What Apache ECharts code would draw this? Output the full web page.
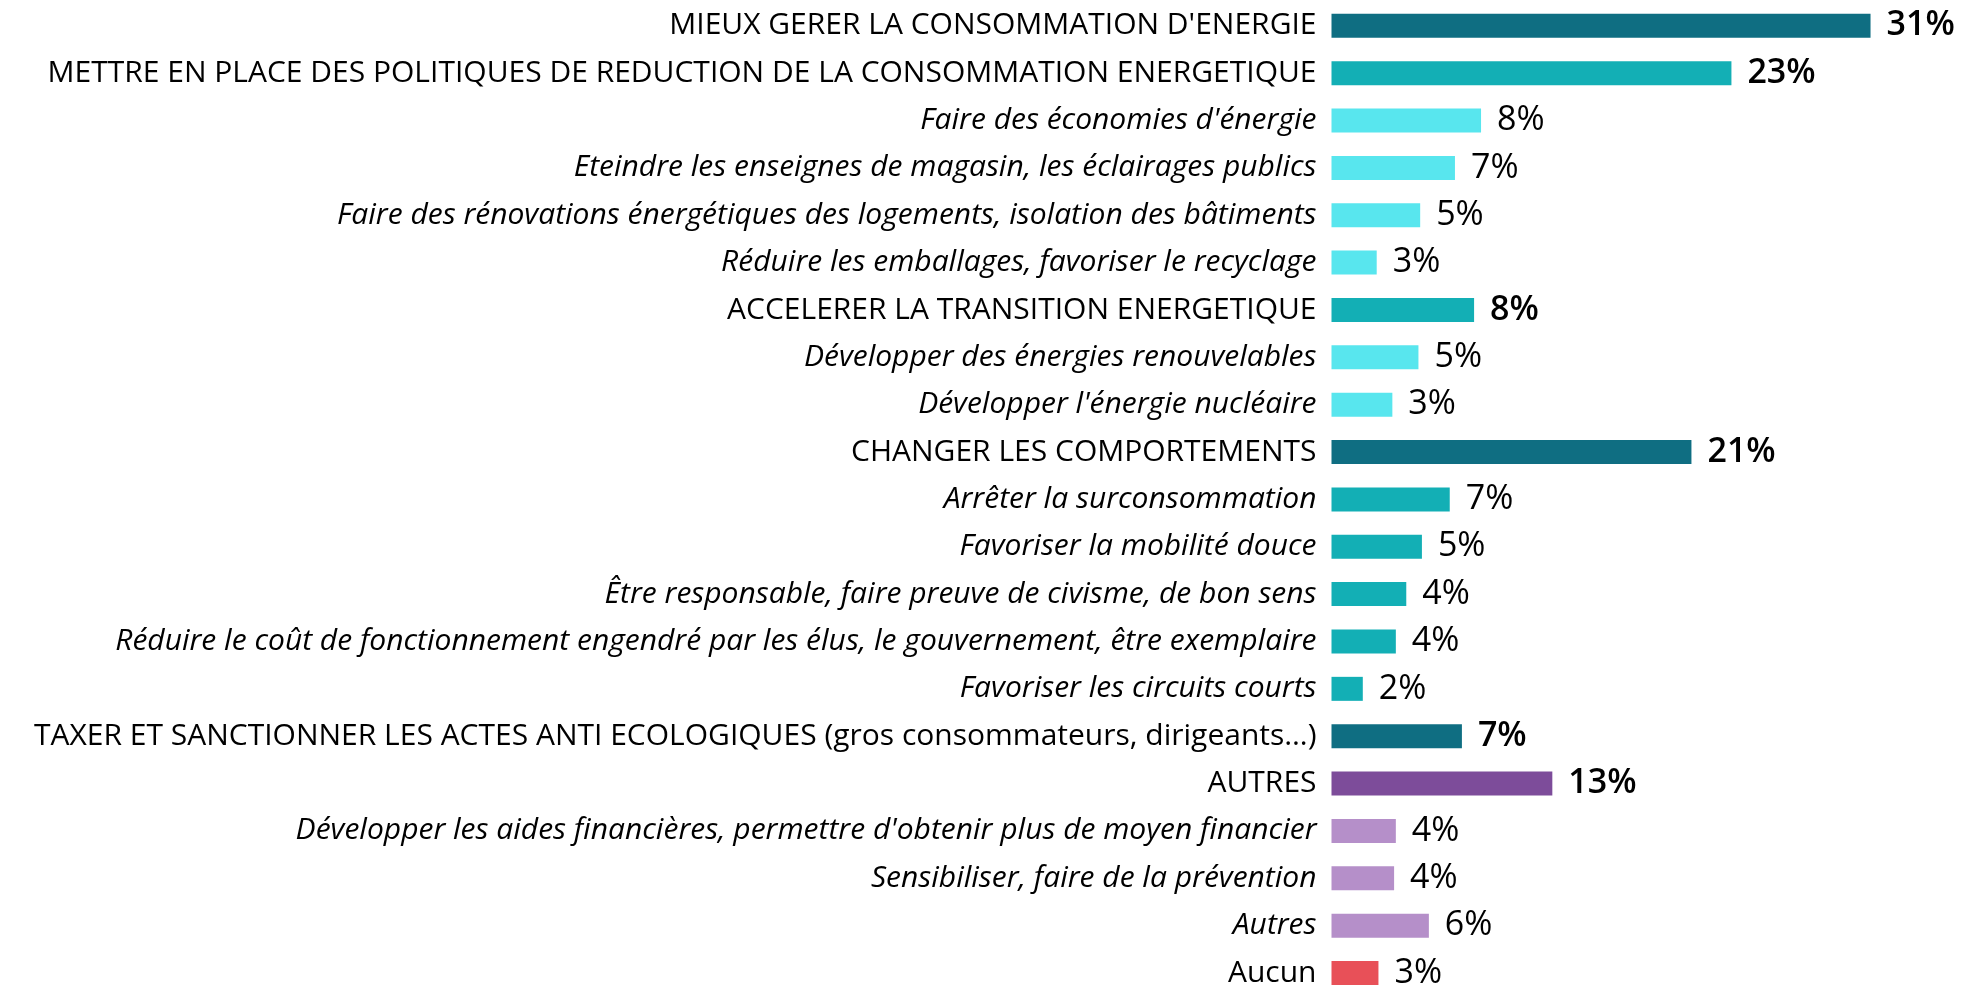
<!DOCTYPE html>
<html>
<head>
<meta charset="utf-8">
<title>Propositions energie</title>
<script src="https://cdn.jsdelivr.net/npm/echarts@6/dist/echarts.min.js"></script>
<style>
  html, body { margin: 0; padding: 0; background: #fff; }
  #chart { width: 1962px; height: 988px; }
</style>
</head>
<body>
<div id="chart"></div>
<script>
  'use strict';

  // libellés, de haut en bas
  var categories = [
    "MIEUX GERER LA CONSOMMATION D'ENERGIE",
    "METTRE EN PLACE DES POLITIQUES DE REDUCTION DE LA CONSOMMATION ENERGETIQUE",
    "Faire des économies d'énergie",
    "Eteindre les enseignes de magasin, les éclairages publics",
    "Faire des rénovations énergétiques des logements, isolation des bâtiments",
    "Réduire les emballages, favoriser le recyclage",
    "ACCELERER LA TRANSITION ENERGETIQUE",
    "Développer des énergies renouvelables",
    "Développer l'énergie nucléaire",
    "CHANGER LES COMPORTEMENTS",
    "Arrêter la surconsommation",
    "Favoriser la mobilité douce",
    "Être responsable, faire preuve de civisme, de bon sens",
    "Réduire le coût de fonctionnement engendré par les élus, le gouvernement, être exemplaire",
    "Favoriser les circuits courts",
    "TAXER ET SANCTIONNER LES ACTES ANTI ECOLOGIQUES (gros consommateurs, dirigeants…)",
    "AUTRES",
    "Développer les aides financières, permettre d'obtenir plus de moyen financier",
    "Sensibiliser, faire de la prévention",
    "Autres",
    "Aucun"
  ];

  // longueur des barres (en %)
  var shares = [31.0, 23.0, 8.6, 7.1, 5.1, 2.6, 8.2, 5.0, 3.5, 20.7, 6.8, 5.2, 4.3, 3.7, 1.8, 7.5, 12.7, 3.7, 3.6, 5.6, 2.7];

  // pourcentages affichés
  var shareLabels = ['31%', '23%', '8%', '7%', '5%', '3%', '8%', '5%', '3%', '21%', '7%', '5%', '4%', '4%', '2%', '7%', '13%', '4%', '4%', '6%', '3%'];

  // niveau : 'main' = rubrique, 'sub' = détail, 'none' = aucun
  var levels = ['main', 'main', 'sub', 'sub', 'sub', 'sub', 'main', 'sub', 'sub', 'main', 'sub', 'sub', 'sub', 'sub', 'sub', 'main', 'main', 'sub', 'sub', 'sub', 'none'];

  var barColors = ['#0f6e82', '#13afb5', '#58e6ee', '#58e6ee', '#58e6ee', '#58e6ee', '#13afb5', '#58e6ee', '#58e6ee',
    '#0f6e82', '#13afb5', '#13afb5', '#13afb5', '#13afb5', '#13afb5', '#0f6e82', '#7d4c9a', '#b58fc9', '#b58fc9', '#b58fc9', '#e85058'];

  var FONT = '"Open Sans", "Noto Sans", sans-serif';

  function _map(arr, fn) {
    var out = [];
    for (var i = 0; i < arr.length; i++) { out.push(fn(arr[i], i)); }
    return out;
  }

  var seriesData = _map(shares, function (v, i) {
    return {
      value: v,
      itemStyle: { color: barColors[i] },
      label: { fontWeight: levels[i] === 'main' ? 600 : 'normal' }
    };
  });

  var chart = echarts.init(document.getElementById('chart'));

  // boundaryGap false : le centre de la 1re et de la dernière ligne sont aux bords de la grille
  var option = {
    animation: false,
    backgroundColor: '#ffffff',
    grid: { left: 1331.5, top: 25.8, width: 630.5, height: 949.2, containLabel: false },
    xAxis: {
      type: 'value',
      min: 0,
      max: 36.26,
      show: false
    },
    yAxis: {
      type: 'category',
      inverse: true,
      boundaryGap: false,
      data: categories,
      axisLine: { show: false },
      axisTick: { show: false },
      splitLine: { show: false },
      axisLabel: {
        margin: 15,
        interval: 0,
        color: '#000',
        fontFamily: FONT,
        fontSize: 30,
        formatter: function (value, index) {
          return '{' + levels[index] + '|' + value + '}';
        },
        rich: {
          main: { fontFamily: FONT, fontSize: 30, color: '#000', fontWeight: 500 },
          sub: { fontFamily: FONT, fontSize: 30, color: '#000', fontStyle: 'italic' },
          none: { fontFamily: FONT, fontSize: 30, color: '#000' }
        }
      }
    },
    series: [{
      type: 'bar',
      data: seriesData,
      barWidth: 24,
      label: {
        show: true,
        position: 'right',
        distance: 16,
        color: '#000',
        fontFamily: FONT,
        fontSize: 34,
        formatter: function (p) { return shareLabels[p.dataIndex]; }
      }
    }]
  };

  chart.setOption(option);
</script>
</body>
</html>
